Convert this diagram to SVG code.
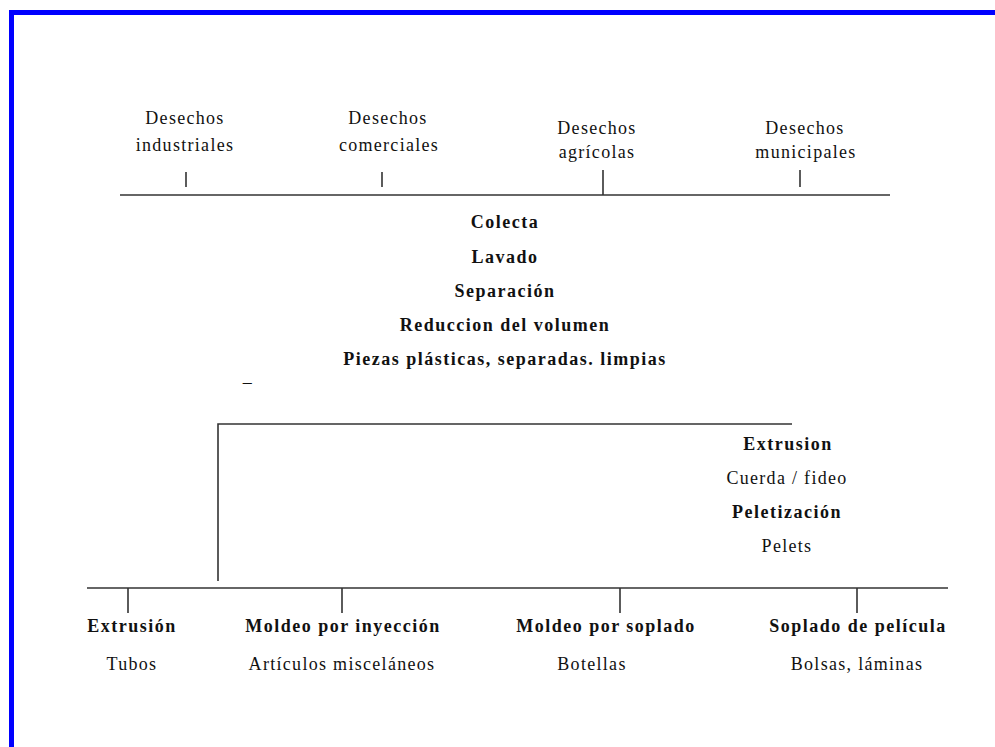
<svg xmlns="http://www.w3.org/2000/svg" width="995" height="747" viewBox="0 0 995 747">
<style>
text{font-family:"Liberation Serif","Times New Roman",serif;font-size:18px;fill:#111;text-anchor:middle;letter-spacing:1.3px}
.b{font-weight:bold;letter-spacing:1.5px}
.ln{stroke:#333;stroke-width:1.6;fill:none}
</style>
<rect x="0" y="0" width="995" height="747" fill="#fff"/>
<g id="frame" fill="#0000ff">
<rect x="9" y="10" width="986" height="5"/>
<rect x="9" y="10" width="5" height="737"/>
</g>
<g id="connectors" class="ln">
<line x1="120" y1="195" x2="890" y2="195"/>
<line x1="186" y1="172" x2="186" y2="187"/>
<line x1="382" y1="172" x2="382" y2="187"/>
<line x1="603" y1="170" x2="603" y2="195"/>
<line x1="800" y1="170" x2="800" y2="187"/>
<polyline points="218,581 218,424 792,424"/>
<line x1="87" y1="588" x2="948" y2="588"/>
<line x1="128" y1="588" x2="128" y2="613"/>
<line x1="342" y1="588" x2="342" y2="613"/>
<line x1="620" y1="588" x2="620" y2="613"/>
<line x1="857" y1="588" x2="857" y2="613"/>
</g>
<g id="src-industriales"><text x="185" y="124">Desechos</text><text x="185" y="151">industriales</text></g>
<g id="src-comerciales"><text x="388" y="124">Desechos</text><text x="389" y="151">comerciales</text></g>
<g id="src-agricolas"><text x="597" y="134">Desechos</text><text x="597" y="158">agrícolas</text></g>
<g id="src-municipales"><text x="805" y="134">Desechos</text><text x="806" y="158">municipales</text></g>
<g id="process">
<text class="b" x="505" y="228">Colecta</text>
<text class="b" x="505" y="263">Lavado</text>
<text class="b" x="505" y="297">Separación</text>
<text class="b" x="505" y="331">Reduccion del volumen</text>
<text class="b" x="505" y="365">Piezas plásticas, separadas. limpias</text>
<text x="248" y="388">–</text>
</g>
<g id="pellet">
<text class="b" x="788" y="450">Extrusion</text>
<text x="787" y="484">Cuerda / fideo</text>
<text class="b" x="787" y="518">Peletización</text>
<text x="787" y="552">Pelets</text>
</g>
<g id="out-extrusion"><text class="b" x="132" y="632">Extrusión</text><text x="132" y="670">Tubos</text></g>
<g id="out-inyeccion"><text class="b" x="343" y="632">Moldeo por inyección</text><text x="342" y="670">Artículos misceláneos</text></g>
<g id="out-soplado"><text class="b" x="606" y="632">Moldeo por soplado</text><text x="592" y="670">Botellas</text></g>
<g id="out-pelicula"><text class="b" x="858" y="632">Soplado de película</text><text x="857" y="670">Bolsas, láminas</text></g>
</svg>
